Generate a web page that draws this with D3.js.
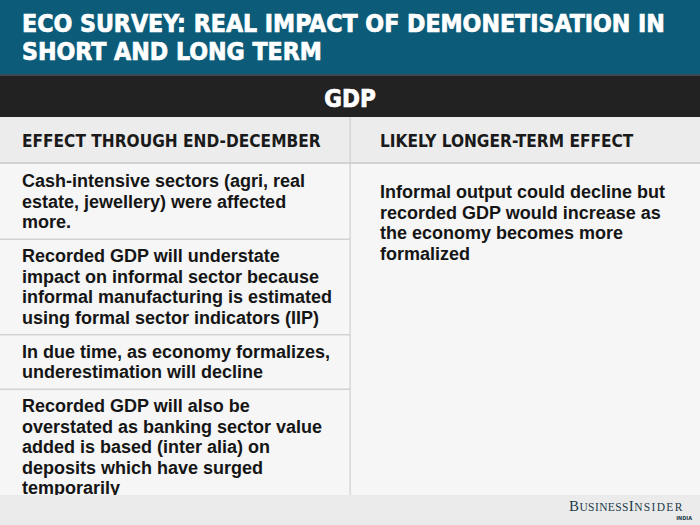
<!DOCTYPE html>
<html><head><meta charset="utf-8">
<script src="https://cdn.jsdelivr.net/npm/d3@7"></script>
<style>html,body{margin:0;padding:0;background:#fff;}svg{display:block;}</style>
</head><body>
<svg id="chart" width="700" height="525"></svg>
<script>
// ---- data ----
const titleLines = ["ECO SURVEY: REAL IMPACT OF DEMONETISATION IN", "SHORT AND LONG TERM"];
const sectionLabel = "GDP";
const columnHeaders = ["EFFECT THROUGH END-DECEMBER", "LIKELY LONGER-TERM EFFECT"];
const shortTermRows = [
  ["Cash-intensive sectors (agri, real", "estate, jewellery) were affected", "more."],
  ["Recorded GDP will understate", "impact on informal sector because", "informal manufacturing is estimated", "using formal sector indicators (IIP)"],
  ["In due time, as economy formalizes,", "underestimation will decline"],
  ["Recorded GDP will also be", "overstated as banking sector value", "added is based (inter alia) on", "deposits which have surged", "temporarily"]
];
const longTermRows = [
  ["Informal output could decline but", "recorded GDP would increase as", "the economy becomes more", "formalized"]
];
const sourceLabel = ["B", "USINESS", "I", "NSIDER"];
const sourceSub = "INDIA";

// ---- layout ----
const W = 700, H = 525;
const svg = d3.select("#chart");
const titleFont = "'Liberation Sans Narrow','DejaVu Sans Condensed','Roboto Condensed',sans-serif";
const bodyFont = "'Liberation Sans','Arimo',sans-serif";

const x = d3.scaleBand().domain(d3.range(columnHeaders.length)).range([0, W]);

// backgrounds
svg.append("rect").attr("x",0).attr("y",0).attr("width",W).attr("height",H).attr("fill","#f6f6f6");
svg.append("rect").attr("x",0).attr("y",0).attr("width",W).attr("height",74).attr("fill","#0c5c79");
svg.append("rect").attr("x",0).attr("y",74).attr("width",W).attr("height",2).attr("fill","#3a4a50");
svg.append("rect").attr("x",0).attr("y",76).attr("width",W).attr("height",41).attr("fill","#222222");
svg.append("rect").attr("x",0).attr("y",117).attr("width",W).attr("height",46).attr("fill","#ececec");
svg.append("rect").attr("x",0).attr("y",162).attr("width",W).attr("height",2).attr("fill","#d2d2d2");

// helper: fit font size so that widest line reaches target width
function fitSize(lines, family, weight, target, probe) {
  const t = svg.append("text").attr("font-family", family).attr("font-weight", weight).attr("font-size", probe);
  let maxW = 0;
  lines.forEach(l => { t.text(l); maxW = Math.max(maxW, t.node().getComputedTextLength()); });
  t.remove();
  return probe * target / maxW;
}

// title (one text element, two lines)
const tSize = fitSize([titleLines[0]], titleFont, 700, 643, 26);
svg.append("text")
  .attr("font-family", titleFont).attr("font-weight", 700).attr("font-size", tSize)
  .attr("fill", "#ffffff").attr("stroke", "#ffffff").attr("stroke-width", 0.7)
  .selectAll("tspan").data(titleLines).join("tspan")
  .attr("x", 22).attr("y", (d,i) => 32 + i*28).text(d => d);

// section label
svg.append("text").attr("x", W/2).attr("y", 107).attr("text-anchor","middle")
  .attr("font-family", titleFont).attr("font-weight", 700).attr("font-size", 24)
  .attr("fill", "#ffffff").attr("stroke", "#ffffff").attr("stroke-width", 0.7)
  .text(sectionLabel);

// column headers
const hSize = fitSize([columnHeaders[0]], titleFont, 700, 299, 19);
svg.append("g").selectAll("text").data(columnHeaders).join("text")
  .attr("x", (d,i) => x(i) + (i === 0 ? 22 : 30)).attr("y", 147)
  .attr("font-family", titleFont).attr("font-weight", 700).attr("font-size", hSize)
  .attr("fill", "#1a1a1a").text(d => d);

// body text size (capped so line boxes do not collide)
const lineH = 20.5;
const bSize = Math.min(18, fitSize(["informal manufacturing is estimated"], bodyFont, 700, 315, 17));

function drawColumn(rows, colIdx, startY, firstOffset, padBottom, withDividers) {
  let top = startY;
  const g = svg.append("g");
  rows.forEach((lines, ri) => {
    const h = firstOffset + lineH*(lines.length-1) + padBottom;
    if (withDividers && ri > 0) {
      g.append("rect").attr("x", x(colIdx)).attr("y", top-0.5).attr("width", x.bandwidth()).attr("height", 1.5).attr("fill", "#d2d2d2");
    }
    const rowTop = top;
    g.append("text")
      .attr("font-family", bodyFont).attr("font-weight", 700).attr("font-size", bSize)
      .attr("fill", "#151515")
      .selectAll("tspan").data(lines).join("tspan")
      .attr("x", x(colIdx) + (colIdx === 0 ? 22 : 30))
      .attr("y", (d,i) => rowTop + firstOffset + i*lineH)
      .text(d => d);
    top += h;
  });
}
drawColumn(shortTermRows, 0, 164, 23, 11, true);
drawColumn(longTermRows, 1, 164, 34, 11, false);

// footer
svg.append("rect").attr("x",0).attr("y",495).attr("width",W).attr("height",30).attr("fill","#ebebeb");

// vertical divider
svg.append("rect").attr("x", x(1)-0.5).attr("y", 117).attr("width", 1.2).attr("height", 378).attr("fill", "#cfcfcf");

// logo
const logo = svg.append("text").attr("x", 569).attr("y", 511)
  .attr("font-family", "'Liberation Serif','DejaVu Serif',serif").attr("fill", "#213b4b");
sourceLabel.forEach((s, i) => {
  logo.append("tspan").attr("font-size", i % 2 === 0 ? 15 : 11.5)
    .attr("letter-spacing", i === 3 ? 1.3 : 0.4).text(s);
});
svg.append("text").attr("x", 692).attr("y", 520).attr("text-anchor","end")
  .attr("font-family", titleFont).attr("font-weight",700).attr("font-size", 5.5)
  .attr("fill", "#213b4b").text(sourceSub);
</script>
</body></html>
